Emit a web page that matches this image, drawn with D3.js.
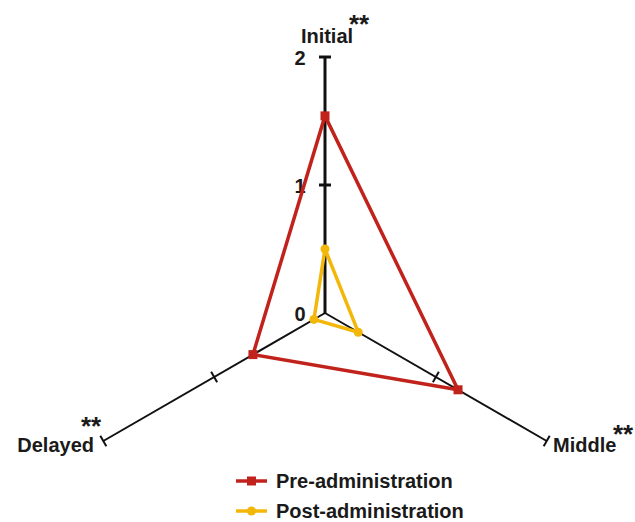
<!DOCTYPE html>
<html>
<head>
<meta charset="utf-8">
<script src="https://cdn.jsdelivr.net/npm/d3@7"></script>
<style>
  body { margin: 0; background: #fff; }
  svg text { font-family: "Liberation Sans", Arial, sans-serif; font-weight: bold; fill: #1a1a1a; }
</style>
</head>
<body>
<svg id="chart" width="635" height="522"></svg>
<script>
// data
var axes = ['Initial', 'Middle', 'Delayed'];
var pre = [1.54, 1.2, 0.65];
var post = [0.5, 0.3, 0.1];
var ticks = [0, 1, 2];
var seriesNames = ['Pre-administration', 'Post-administration'];
var colors = ['#c1231c', '#f3b70a'];

var svg = d3.select('#chart');
var cx = 325, cy = 313;
var r = d3.scaleLinear().domain([0, 2]).range([0, 256]);
var angles = [-90, 30, 150].map(function (a) { return a * Math.PI / 180; });

function pt(i, v) {
  return [cx + r(v) * Math.cos(angles[i]), cy + r(v) * Math.sin(angles[i])];
}

// axes
axes.forEach(function (name, i) {
  var end = pt(i, 2);
  var w = i === 0 ? 3 : 2;
  svg.append('line')
    .attr('x1', cx).attr('y1', cy)
    .attr('x2', end[0]).attr('y2', end[1])
    .attr('stroke', '#111').attr('stroke-width', w);
  var a = angles[i];
  var px = -Math.sin(a), py = Math.cos(a);
  [1, 2].forEach(function (t) {
    var p = pt(i, t), h = 6;
    svg.append('line')
      .attr('x1', p[0] - px * h).attr('y1', p[1] - py * h)
      .attr('x2', p[0] + px * h).attr('y2', p[1] + py * h)
      .attr('stroke', '#111').attr('stroke-width', w);
  });
});

// tick labels on Initial axis
svg.selectAll('.tick-label')
  .data(ticks)
  .enter().append('text')
  .attr('x', cx - 25)
  .attr('y', function (d) { return cy - r(d) + 8; })
  .attr('text-anchor', 'middle')
  .style('font-size', '20px')
  .text(function (d) { return d; });

// axis labels
svg.append('text').attr('x', 327).attr('y', 43).attr('text-anchor', 'middle')
  .style('font-size', '20px').text('Initial');
svg.append('text').attr('x', 349).attr('y', 33).style('font-size', '26px').text('**');
svg.append('text').attr('x', 94).attr('y', 452).attr('text-anchor', 'end')
  .style('font-size', '20px').text('Delayed');
svg.append('text').attr('x', 81).attr('y', 435).style('font-size', '26px').text('**');
svg.append('text').attr('x', 553).attr('y', 452)
  .style('font-size', '20px').text('Middle');
svg.append('text').attr('x', 613).attr('y', 443).style('font-size', '26px').text('**');

// series
var line = d3.line().curve(d3.curveLinearClosed);
[pre, post].forEach(function (vals, s) {
  var pts = vals.map(function (v, i) { return pt(i, v); });
  svg.append('path')
    .attr('d', line(pts))
    .attr('fill', 'none')
    .attr('stroke', colors[s])
    .attr('stroke-width', 3.5)
    .attr('stroke-linejoin', 'round');
  pts.forEach(function (p) {
    if (s === 0) {
      svg.append('rect').attr('x', p[0] - 4.5).attr('y', p[1] - 4.5)
        .attr('width', 9).attr('height', 9).attr('fill', colors[s]);
    } else {
      svg.append('circle').attr('cx', p[0]).attr('cy', p[1]).attr('r', 4.5)
        .attr('fill', colors[s]);
    }
  });
});

// legend
var legend = svg.append('g');
seriesNames.forEach(function (name, s) {
  var y = 481 + s * 30;
  legend.append('line').attr('x1', 236).attr('x2', 267).attr('y1', y).attr('y2', y)
    .attr('stroke', colors[s]).attr('stroke-width', 3.5);
  if (s === 0) {
    legend.append('rect').attr('x', 247).attr('y', y - 4.5).attr('width', 9).attr('height', 9)
      .attr('fill', colors[s]);
  } else {
    legend.append('circle').attr('cx', 251.5).attr('cy', y).attr('r', 4.5).attr('fill', colors[s]);
  }
  legend.append('text').attr('x', 276).attr('y', y + 7)
    .style('font-size', '20px').text(name);
});
</script>
</body>
</html>
